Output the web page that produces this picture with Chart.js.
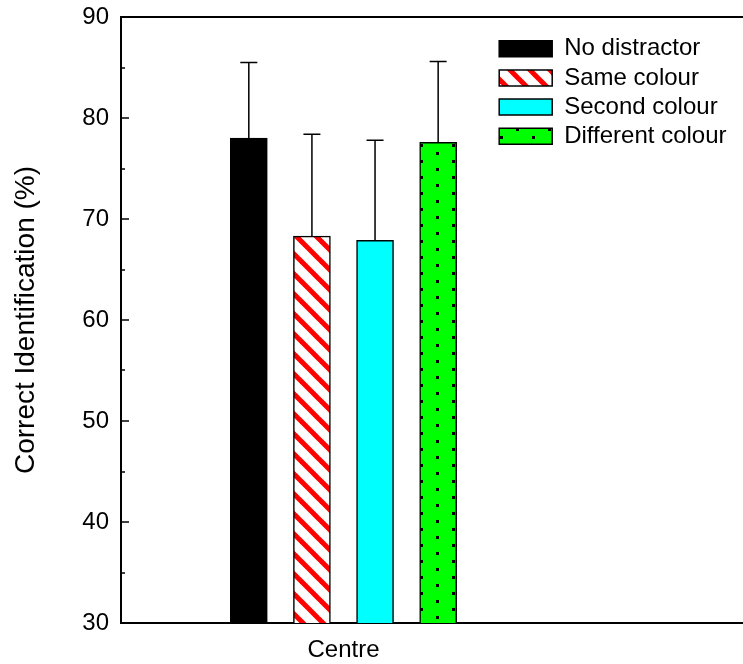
<!DOCTYPE html>
<html>
<head>
<meta charset="utf-8">
<script src="https://cdn.jsdelivr.net/npm/chart.js@4"></script>
<style>
  body { margin: 0; background: #fff; }
  #wrap { width: 743px; height: 664px; }
</style>
</head>
<body>
<div id="wrap"><canvas id="chart" width="743" height="664"></canvas></div>
<script>
const groups = ["Centre"];
const conditions = ["No distractor", "Same colour", "Second colour", "Different colour"];
const means = [78.0, 68.3, 67.9, 77.6];
const errors = [7.5, 10.1, 9.9, 8.0];
const yTicks = [30, 40, 50, 60, 70, 80, 90];

function hatchPattern() {
  const c = document.createElement("canvas");
  c.width = 20; c.height = 20;
  const g = c.getContext("2d");
  g.fillStyle = "#fff";
  g.fillRect(0, 0, 20, 20);
  g.strokeStyle = "#ff0000";
  g.lineWidth = 5;
  for (const off of [-20, 0, 20]) {
    g.beginPath();
    g.moveTo(off - 2, -2);
    g.lineTo(off + 22, 22);
    g.stroke();
  }
  return g.createPattern(c, "repeat");
}

function dotPattern() {
  const c = document.createElement("canvas");
  c.width = 32; c.height = 16;
  const g = c.getContext("2d");
  g.fillStyle = "#00ff00";
  g.fillRect(0, 0, 32, 16);
  g.fillStyle = "#000";
  g.fillRect(4, 0, 3, 3);
  g.fillRect(20, 8, 3, 3);
  return g.createPattern(c, "repeat");
}

const fills = ["#000000", hatchPattern(), "#00ffff", dotPattern()];

// error bars drawn from the y scale
const errorBars = {
  id: "errorBars",
  afterDatasetsDraw(chart) {
    const ctx = chart.ctx;
    const y = chart.scales.y;
    ctx.save();
    ctx.strokeStyle = "#000";
    ctx.lineWidth = 1.5;
    chart.data.datasets.forEach((ds, i) => {
      const bar = chart.getDatasetMeta(i).data[0];
      const top = y.getPixelForValue(means[i] + errors[i]);
      ctx.beginPath();
      ctx.moveTo(bar.x, bar.y);
      ctx.lineTo(bar.x, top);
      ctx.moveTo(bar.x - 8.5, top);
      ctx.lineTo(bar.x + 8.5, top);
      ctx.stroke();
    });
    ctx.restore();
  }
};

// put the legend in the upper right of the plot box
const legendSpot = {
  id: "legendSpot",
  afterLayout(chart) {
    const lg = chart.legend;
    const w = lg.width, h = lg.height;
    lg.left = 494; lg.top = 31.5;
    lg.right = lg.left + w; lg.bottom = lg.top + h;
  }
};

new Chart(document.getElementById("chart"), {
  type: "bar",
  data: {
    datasets: conditions.map((name, i) => ({
      label: name,
      data: [{ x: i - 1.5, y: means[i] }],
      backgroundColor: fills[i],
      borderColor: "#000",
      borderWidth: 1.5,
      borderSkipped: false,
      grouped: false,
      barThickness: 37
    }))
  },
  options: {
    responsive: false,
    animation: false,
    layout: { padding: { left: 0, right: 0, top: 17, bottom: 0 } },
    font: { family: "'Liberation Sans', Arial, sans-serif" },
    plugins: {
      tooltip: { enabled: false },
      legend: {
        position: "chartArea",
        align: "start",
        labels: {
          boxWidth: 53,
          boxHeight: 16,
          padding: 5.2,
          color: "#000",
          font: { size: 24, family: "'Liberation Sans', Arial, sans-serif" }
        }
      }
    },
    scales: {
      x: {
        type: "linear",
        offset: false,
        min: -3.525,
        max: 6.33,
        afterBuildTicks: (s) => { s.ticks = groups.map((g, i) => ({ value: i })); },
        afterFit: (s) => { s.height = 41; s.paddingLeft = 0; s.paddingRight = 0; },
        grid: { display: false },
        border: { display: true, color: "#000", width: 2 },
        ticks: {
          padding: 5,
          color: "#000",
          font: { size: 24, family: "'Liberation Sans', Arial, sans-serif" },
          callback: (v, i) => groups[i]
        }
      },
      y: {
        min: yTicks[0],
        max: yTicks[yTicks.length - 1],
        afterFit: (s) => { s.width = 121; s.paddingTop = 0; s.paddingBottom = 0; },
        afterBuildTicks: (s) => {
          const t = [];
          for (let v = yTicks[0]; v <= yTicks[yTicks.length - 1]; v += 5) t.push({ value: v });
          s.ticks = t;
        },
        border: { display: true, color: "#000", width: 2 },
        grid: {
          drawOnChartArea: true,
          color: (c) => (c.tick && c.tick.value === yTicks[yTicks.length - 1] ? "#000" : "rgba(0,0,0,0)"),
          lineWidth: 2,
          tickColor: "#000",
          tickWidth: 1.5,
          tickLength: -8,
          tickBorderDash: (c) => (c.tick && yTicks.includes(c.tick.value) ? [] : [0, 4, 5, 100])
        },
        ticks: {
          autoSkip: false,
          padding: 20,
          color: "#000",
          font: { size: 24, family: "'Liberation Sans', Arial, sans-serif" },
          callback: (v) => (yTicks.includes(v) ? v : "")
        },
        title: {
          display: true,
          text: "Correct Identification (%)",
          color: "#000",
          padding: { top: 9, bottom: 0 },
          font: { size: 28, family: "'Liberation Sans', Arial, sans-serif" }
        }
      }
    }
  },
  plugins: [errorBars, legendSpot]
});
</script>
</body>
</html>
